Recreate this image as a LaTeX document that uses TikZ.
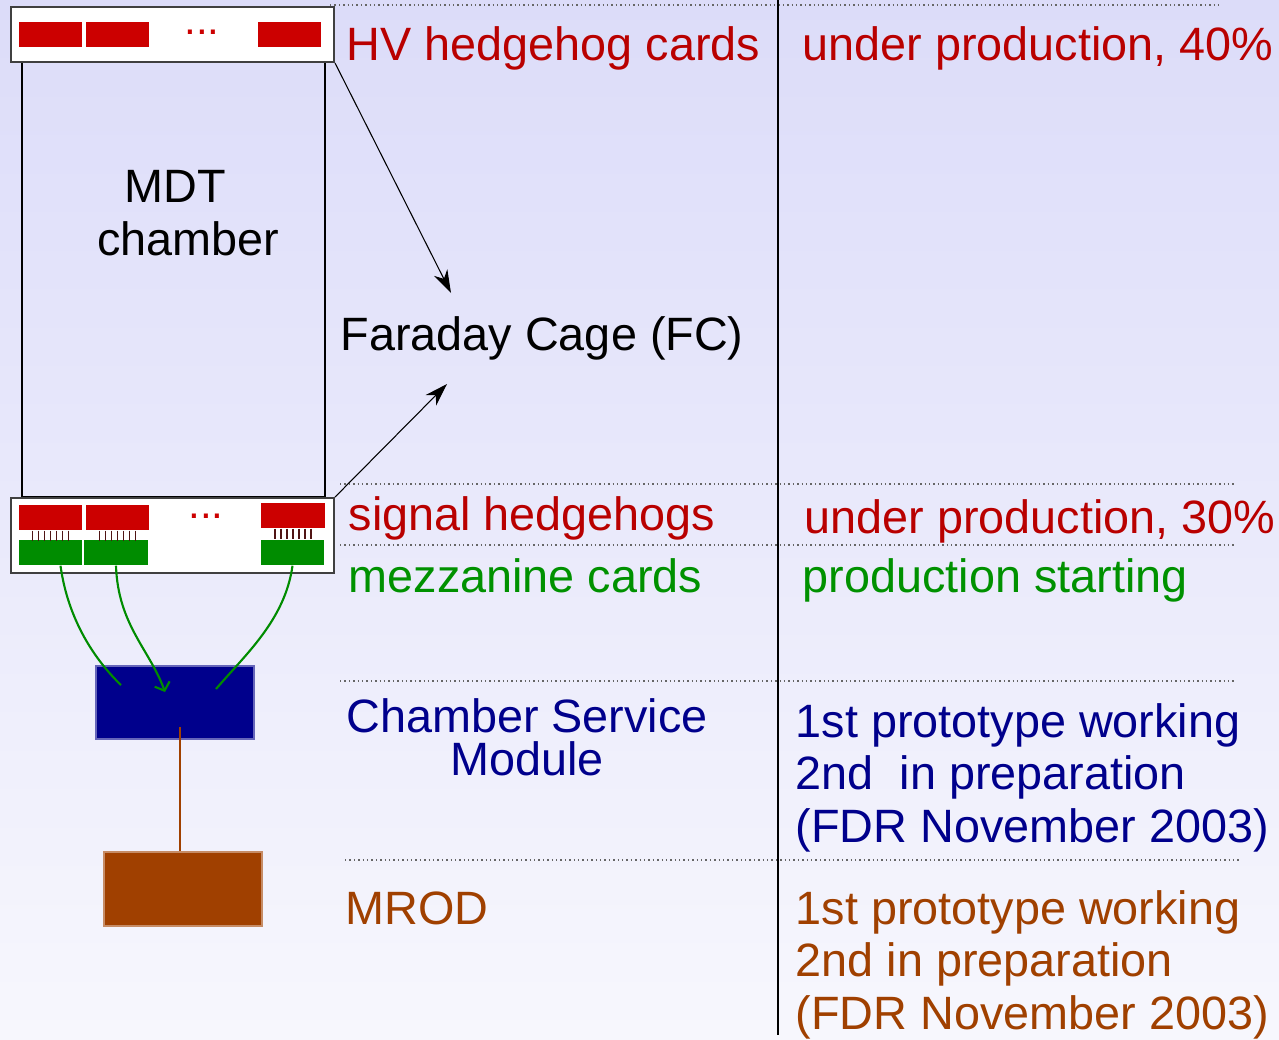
\documentclass[tikz,border=0pt]{standalone}
\usepackage{fontspec}
\setmainfont{Liberation Sans}
\usepackage{tikz}
\usetikzlibrary{arrows.meta}
\usepackage{xcolor}

\definecolor{bgtop}{RGB}{220,220,249}
\definecolor{bgbot}{RGB}{247,247,253}
\definecolor{cardred}{RGB}{204,0,0}
\definecolor{labelred}{RGB}{185,0,0}
\definecolor{mezzgreen}{RGB}{0,140,0}
\definecolor{labelgreen}{RGB}{0,145,0}
\definecolor{navy}{RGB}{0,0,140}
\definecolor{mrodbrown}{RGB}{160,64,0}
\definecolor{pinbrown}{RGB}{80,20,20}

\newcommand\mainsize{\fontsize{13.3}{14.8}\selectfont}
\newcommand\csmsize{\fontsize{13.3}{12}\selectfont}

\tikzset{
  panel/.style={draw=black!75, fill=white, line width=0.5pt},
  hvcard/.style={fill=cardred, minimum width=0.63cm, minimum height=0.25cm},
  mezzcard/.style={fill=mezzgreen, minimum width=0.63cm, minimum height=0.25cm},
  pin/.style={draw=pinbrown, line width=0.45pt},
  cable/.style={draw=mezzgreen, line width=0.6pt},
  pointer/.style={-{Stealth[length=6.5pt,width=4.2pt,inset=2pt]}, line width=0.3pt},
  rowsep/.style={black!60, line width=0.4pt, dash pattern=on 0.4pt off 0.85pt},
  lbl/.style={anchor=base west, font=\mainsize},
}

\begin{document}
\begin{tikzpicture}[x=0.01cm, y=-0.01cm, every node/.style={inner sep=0pt}]
    \fill[top color=bgtop, bottom color=bgbot] (0,0) rectangle (1279,1039);
    \useasboundingbox (0,0) rectangle (1279,1039);

    \draw[rowsep] (330,5) -- (1222,5);
    \foreach \y in {484,545,681} \draw[rowsep] (340,\y) -- (1235,\y);
    \draw[rowsep] (345,860) -- (1240,860);
    \draw[line width=0.3pt] (778,0) -- (778,1035);

    \node (mdt) at (173.5,279.5) [draw, line width=0.5pt, minimum width=3.03cm, minimum height=4.35cm] {};
    \node (mdtlbl) at (188,255) [anchor=base, align=center, font=\mainsize] {MDT\hspace*{0.26cm}\\chamber};

    \node (hvbox) at (172.5,34.5) [panel, minimum width=3.23cm, minimum height=0.55cm] {};
    \node (hv1) at (50.5,34.5) [hvcard] {};
    \node (hv2) at (117.5,34.5) [hvcard] {};
    \node (hv3) at (289.5,34.5) [hvcard] {};
    \node (hvdots) at (202,32) [text=cardred, font=\fontsize{12}{12}\selectfont] {...};

    \node (sigbox) at (172.5,535.5) [panel, minimum width=3.23cm, minimum height=0.75cm] {};
    \node (sh1) at (50.5,517.5) [hvcard] {};
    \node (sh2) at (117.5,517.5) [hvcard] {};
    \node (sh3) at (293,515.5) [hvcard] {};
    \node (mz1) at (50.5,552.5) [mezzcard] {};
    \node (mz2) at (116,552.5) [mezzcard] {};
    \node (mz3) at (292.5,552.5) [mezzcard] {};
    \node (shdots) at (206,516) [text=cardred, font=\fontsize{12}{12}\selectfont] {...};
    \foreach \c in {sh1,sh2,sh3}
        \foreach \d in {-18,-12,...,18}
            \draw[pin] (\c.south) ++(\d,0) -- ++(0,10);

    \node (csm) at (175,702.5) [fill=navy, draw=navy!60, minimum width=1.58cm, minimum height=0.73cm] {};
    \node (mrod) at (183,889) [fill=mrodbrown, draw=mrodbrown!60, minimum width=1.58cm, minimum height=0.74cm] {};
    \coordinate (csmout) at (180,727);
    \draw[mrodbrown, line width=0.4pt] (csmout) -- (csmout |- mrod.north);

    \coordinate (csmin1) at (121,685);
    \coordinate (csmin2) at (165,692);
    \coordinate (csmin3) at (216,689);
    \draw[cable] ([xshift=1mm]mz1.south) .. controls (68,620) and (95,660) .. (csmin1);
    \draw[cable, -{Straight Barb[length=2pt,width=4.5pt]}] (mz2.south) .. controls (118,625) and (150,650) .. (csmin2);
    \draw[cable] (mz3.south) .. controls (285,620) and (245,655) .. (csmin3);

    \node (fc) at (340,350) [lbl] {Faraday Cage (FC)};
    \coordinate (fcup) at (451,293);
    \coordinate (fclow) at (447,384);
    \draw[pointer] (hvbox.south east) -- (fcup);
    \draw[pointer] (sigbox.north east) -- (fclow);

    \node (hvlbl) at (346,60) [lbl, text=labelred] {HV hedgehog cards};
    \node (hvstat) at (802,60) [lbl, text=labelred] {under production, 40\%};
    \node (shlbl) at (348,530) [lbl, text=labelred] {signal hedgehogs};
    \node (shstat) at (804,533) [lbl, text=labelred] {under production, 30\%};
    \node (mzlbl) at (348,592) [lbl, text=labelgreen] {mezzanine cards};
    \node (mzstat) at (802,592) [lbl, text=labelgreen] {production starting};
    \node (csmlbl) at (527,775) [anchor=base, align=center, text=navy, font=\csmsize] {Chamber Service\\Module};
    \node (csmstat) at (795,842) [lbl, align=left, text=navy] {1st prototype working\\2nd\ \ in preparation\\(FDR November 2003)};
    \node (mrodlbl) at (345,924) [lbl, text=mrodbrown] {MROD};
    \node (mrodstat) at (795,1029) [lbl, align=left, text=mrodbrown] {1st prototype working\\2nd in preparation\\(FDR November 2003)};
\end{tikzpicture}
\end{document}
